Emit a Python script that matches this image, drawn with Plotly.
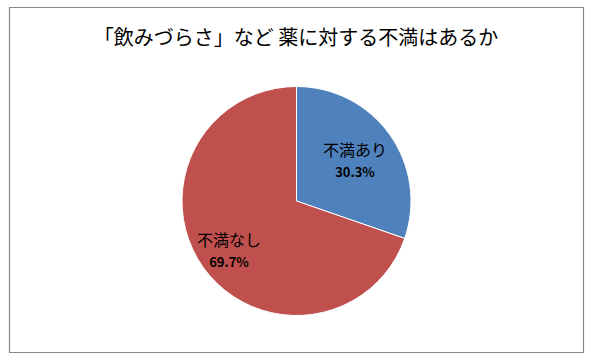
import math
import plotly.graph_objects as go

categories = ["不満あり", "不満なし"]
values = [30.3, 69.7]
colors = ["#4F81BD", "#C0504D"]
title_text = "「飲みづらさ」など 薬に対する不満はあるか"

W, H = 593, 363
FONT = "Noto Sans CJK JP"

# pie geometry in pixels
CX, CY, R = 296.5, 201.0, 114.5
label_radius_frac = [0.63, 0.72]

fig = go.Figure(go.Pie(
    labels=categories,
    values=values,
    sort=False,
    direction="clockwise",
    rotation=0,
    marker=dict(colors=colors, line=dict(color="#FFFFFF", width=1)),
    textinfo="none",
    showlegend=False,
    hoverinfo="label+percent",
    domain=dict(x=[(CX - R) / W, (CX + R) / W], y=[1 - (CY + R) / H, 1 - (CY - R) / H]),
))

total = sum(values)
annotations = []
cum = 0.0
for lab, v, f in zip(categories, values, label_radius_frac):
    mid = (cum + v / 2) / total * 2 * math.pi
    cum += v
    px = CX + f * R * math.sin(mid)
    py = CY - f * R * math.cos(mid)
    annotations.append(dict(
        x=px / W, y=1 - py / H, xref="paper", yref="paper",
        xanchor="center", yanchor="middle", showarrow=False,
        text=f"{lab}<br><span style='font-size:13px;font-weight:bold'>{v / total * 100:.1f}%</span>",
        font=dict(family=FONT, size=16, color="#000000"),
    ))

fig.update_layout(
    width=W, height=H,
    margin=dict(l=0, r=0, t=0, b=0),
    paper_bgcolor="#FFFFFF",
    plot_bgcolor="#FFFFFF",
    title=dict(text=title_text, x=296 / W, xanchor="center", y=1 - 38 / H, yanchor="middle",
               font=dict(family=FONT, size=20, color="#000000")),
    annotations=annotations,
    shapes=[dict(type="rect", xref="paper", yref="paper",
                 x0=9.5 / W, x1=583.5 / W, y0=1 - 352.5 / H, y1=1 - 7.5 / H,
                 line=dict(color="#868686", width=1.2), fillcolor="rgba(0,0,0,0)", layer="below")],
)

fig.write_html("out.html", config={"displayModeBar": False},
               post_script="document.body.style.margin='0';document.body.style.overflow='hidden';")
